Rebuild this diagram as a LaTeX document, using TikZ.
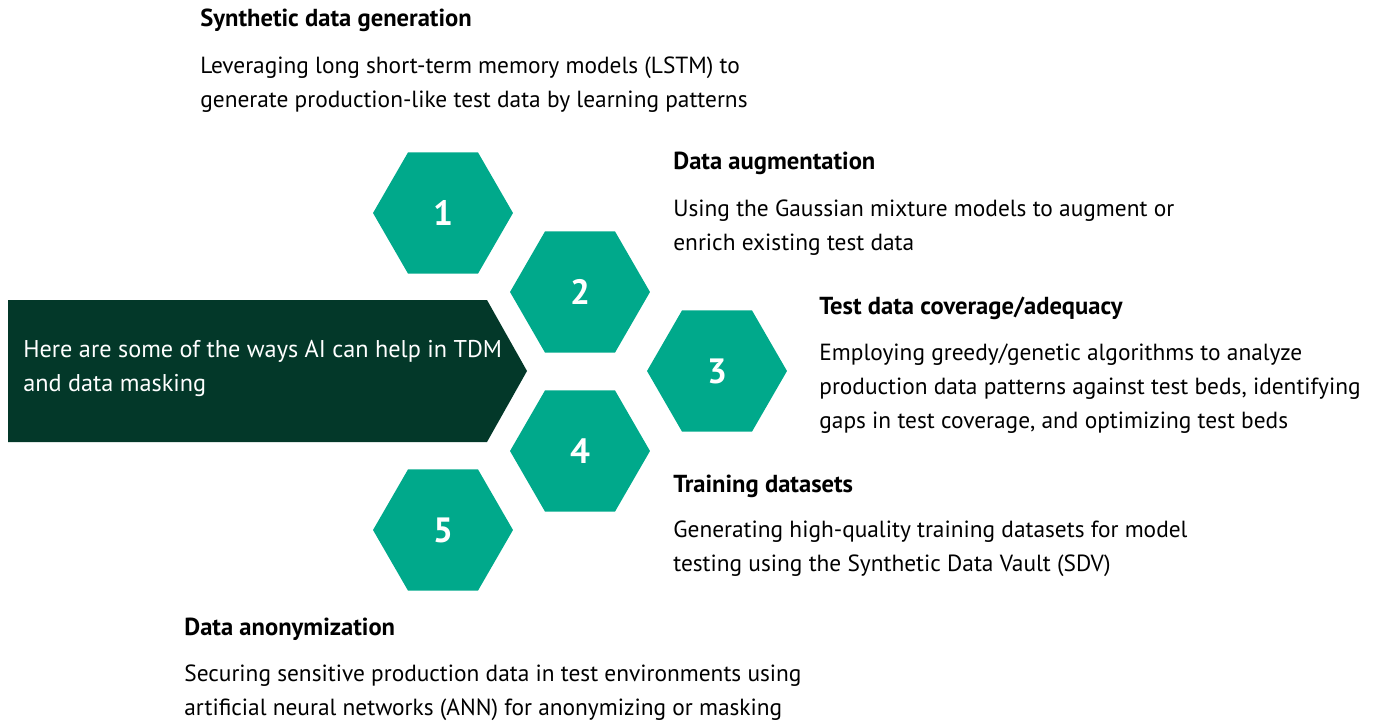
\documentclass[tikz,border=0pt]{standalone}
\usepackage{fontspec}
\setmainfont{PT Sans}
\usetikzlibrary{shapes.geometric}
\definecolor{hexgreen}{RGB}{0,169,139}
\definecolor{darkgreen}{RGB}{3,56,41}
\tikzstyle{Hexagon}=[shape=regular polygon, regular polygon sides=6, minimum size=2.8cm, inner sep=0pt, outer sep=0pt, fill=hexgreen, text=white, font=\fontsize{20}{20}\selectfont\bfseries]
\tikzstyle{Heading}=[anchor=base west, inner sep=0pt, text=black, font=\fontsize{14}{19.35}\selectfont\bfseries]
\tikzstyle{Body}=[anchor=base west, inner sep=0pt, align=left, text=black, font=\fontsize{13.3}{19.35}\selectfont]
\pgfdeclarelayer{shapelayer}
\pgfdeclarelayer{textlayer}
\pgfsetlayers{shapelayer, textlayer}

\begin{document}
\begin{tikzpicture}[x=0.02cm, y=-0.02cm]
	\useasboundingbox (0,0) rectangle (1375,721);
	\begin{pgfonlayer}{shapelayer}
		\fill [darkgreen] (8,300) -- (487,300) -- (527,371) -- (487,442) -- (8,442) -- cycle;
		\node [style=Hexagon] (hex_one) at (443,213) {1};
		\node [style=Hexagon] (hex_two) at (580,292) {2};
		\node [style=Hexagon] (hex_three) at (717,371) {3};
		\node [style=Hexagon] (hex_four) at (580,451) {4};
		\node [style=Hexagon] (hex_five) at (443,530) {5};
	\end{pgfonlayer}
	\begin{pgfonlayer}{textlayer}
		% base anchor sits on the last line
		\node [style=Body, text=white, font=\fontsize{13.8}{19.35}\selectfont] (intro) at (23,391) {Here are some of the ways AI can help in TDM\\and data masking};

		% items
		\node [style=Heading] (synthetic_head) at (200,26) {Synthetic data generation};
		\node [style=Body] (synthetic_text) at (200,107) {Leveraging long short-term memory models (LSTM) to\\generate production-like test data by learning patterns};
		\node [style=Heading] (augment_head) at (673,169) {Data augmentation};
		\node [style=Body] (augment_text) at (673,250) {Using the Gaussian mixture models to augment or\\enrich existing test data};
		\node [style=Heading] (coverage_head) at (819,314) {Test data coverage/adequacy};
		\node [style=Body] (coverage_text) at (819,428) {Employing greedy/genetic algorithms to analyze\\production data patterns against test beds, identifying\\gaps in test coverage, and optimizing test beds};
		\node [style=Heading] (training_head) at (673,492) {Training datasets};
		\node [style=Body] (training_text) at (673,571) {Generating high-quality training datasets for model\\testing using the Synthetic Data Vault (SDV)};
		\node [style=Heading] (anon_head) at (184,635) {Data anonymization};
		\node [style=Body] (anon_text) at (184,715) {Securing sensitive production data in test environments using\\artificial neural networks (ANN) for anonymizing or masking};
	\end{pgfonlayer}
\end{tikzpicture}
\end{document}
